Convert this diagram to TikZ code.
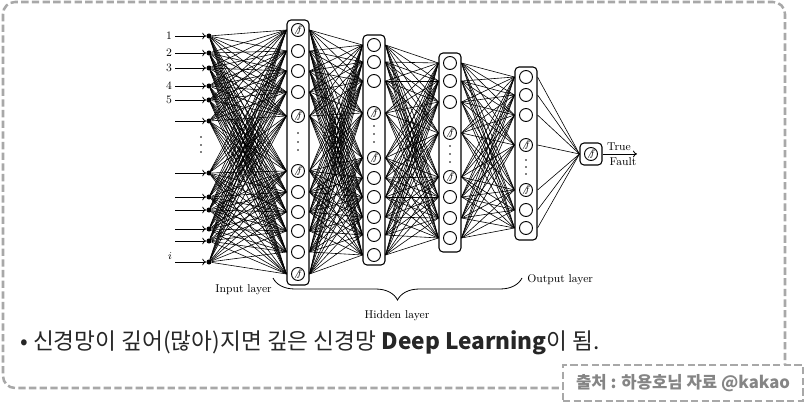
\documentclass[tikz,border=0pt]{standalone}
\usepackage{fontspec}
\usepackage{xcolor}
\usepackage{tikz}
\usetikzlibrary{arrows.meta,decorations.pathreplacing}
\newfontfamily\krfont{Noto Sans CJK KR}
\definecolor{dashgray}{HTML}{A8A8A8}
\definecolor{srcgray}{HTML}{858585}

\begin{document}
\begin{tikzpicture}[x=0.75pt, y=-0.75pt,
    neuron/.style={circle, draw, line width=0.7pt, inner sep=0pt, minimum size=9.75pt},
    neuo/.style={neuron},
    neuf/.style={neuron, font=\fontsize{7}{7}\selectfont, execute at begin node={$\not f$}},
    layerbox/.style={draw, rounded corners=3pt, line width=0.8pt, minimum width=16.5pt, inner sep=0pt},
    wire/.style={line width=0.45pt},
    tip/.style={-{To[length=3pt,width=5pt]}},
    indot/.style={circle, fill, inner sep=0pt, minimum size=3.8pt},
    vdot/.style={circle, fill, inner sep=0pt, minimum size=1.4pt},
    lbl/.style={font=\fontsize{8.5}{10}\selectfont, inner sep=0pt},
    dashline/.style={dashgray, line width=1.9pt, dash pattern=on 5.5pt off 2.5pt}]

    \useasboundingbox (0,0) rectangle (811,406);
    \draw[dashline, rounded corners=9pt] (3,2) rectangle (785,388);

    \node[layerbox, minimum height=198.75pt] (A) at (298,152.5) {};
    \node[layerbox, minimum height=172.5pt] (B) at (374,150) {};
    \node[layerbox, minimum height=149.25pt] (C) at (450,152.5) {};
    \node[layerbox, minimum height=129.75pt] (D) at (526,153.5) {};

    \foreach \y/\t [count=\k] in {30/f,51/o,71/o,92/o,116/f,171/f,192/o,212/o,231/o,252/o,274/f}
        \node[neu\t] (a\k) at (298,\y) {};
    \foreach \y/\t [count=\k] in {45/o,62/o,81/o,113/f,158/f,178/o,197/o,217/o,235/o,255/o}
        \node[neu\t] (b\k) at (374,\y) {};
    \foreach \y/\t [count=\k] in {63/o,81/o,102/o,133/f,177/f,197/o,218/o,238/o}
        \node[neu\t] (c\k) at (450,\y) {};
    \foreach \y/\t [count=\k] in {77/o,95/o,115/o,145/f,190/f,210/o,228/o}
        \node[neu\t] (d\k) at (526,\y) {};

    \foreach \y [count=\k] in {133,142,150} \node[vdot] (ad\k) at (298,\y) {};
    \foreach \y [count=\k] in {126,134,142} \node[vdot] (bd\k) at (374,\y) {};
    \foreach \y [count=\k] in {146,154,162} \node[vdot] (cd\k) at (450,\y) {};
    \foreach \y [count=\k] in {160,167,174} \node[vdot] (dd\k) at (526,\y) {};
    \foreach \y [count=\k] in {137,145,152} \node[vdot] (id\k) at (201,\y) {};

    % inputs
    \foreach \y [count=\k] in {36,53,68,86,100,121,173,197,210,229,241,262} {
        \coordinate (s\k) at (175,\y);
        \node[indot] (in\k) at (209,\y) {};
        \draw[wire, line width=0.6pt, tip] (s\k) -- (in\k);
    }
    \foreach \t [count=\k] in {1,...,5}
        \node[lbl, anchor=east] (n\k) at ([xshift=-2pt]s\k) {\t};
    \node[lbl] (ni) at (170,256) {$i$};

    % connections
    \foreach \i in {1,...,12}
        \foreach \j in {1,...,11}
            \draw[wire] (in\i) -- (A.west |- a\j);
    \foreach \i in {1,...,11}
        \foreach \j in {1,...,10}
            \draw[wire] (A.east |- a\i) -- (B.west |- b\j);
    \foreach \i in {1,...,10}
        \foreach \j in {1,...,8}
            \draw[wire] (B.east |- b\i) -- (C.west |- c\j);
    \foreach \i in {1,...,8}
        \foreach \j in {1,...,7}
            \draw[wire] (C.east |- c\i) -- (D.west |- d\j);

    % output
    \node[neuf] (o) at (591,154) {};
    \node[layerbox, minimum height=16.5pt] (out) at (591,154) {};
    \foreach \i in {1,...,7}
        \draw[wire] (D.east |- d\i) -- (out.west);
    \coordinate (res) at (637,154);
    \draw[wire, line width=0.6pt, tip] (out) -- (res);
    \node[lbl, anchor=south] (true) at (619,151) {True};
    \node[lbl, anchor=north] (fault) at (623,157) {Fault};

    % layers
    \coordinate (bl) at (273,278);
    \coordinate (br) at (522,278);
    \draw[line width=0.6pt, decorate, decoration={brace, mirror, amplitude=16.5pt}] (bl) -- (br);
    \node[lbl, anchor=east] (inl) at (272,290) {Input layer};
    \node[lbl] (hid) at (397,316) {Hidden layer};
    \node[lbl, anchor=west] (outl) at (527,280) {Output layer};

    \node[anchor=west, inner sep=0pt, text=black!85, font=\krfont\fontsize{17}{19}\selectfont] (note) at (20,343)
        {• 신경망이 깊어(많아)지면 깊은 신경망 \textbf{Deep Learning}이 됨.};
    \node[dashline, draw=dashgray, fill=white, minimum width=180pt, minimum height=27pt, inner sep=0pt,
        text=srcgray, font=\krfont\bfseries\fontsize{12.5}{14}\selectfont] (src) at (683,383)
        {출처 : 하용호님 자료 @kakao};
\end{tikzpicture}
\end{document}
